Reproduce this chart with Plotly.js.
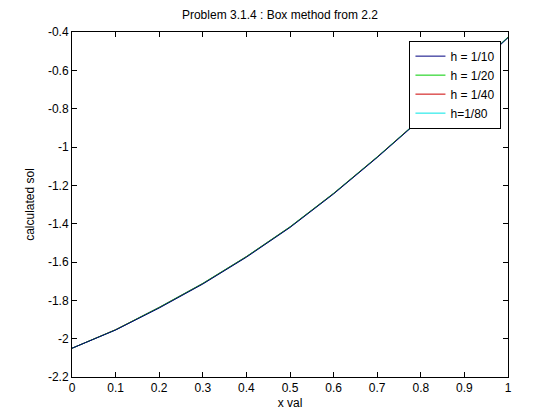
<!DOCTYPE html>
<html>
<head>
<script src="https://cdn.plot.ly/plotly-3.0.1.min.js"></script>
<style>body{margin:0;background:#fff}</style>
</head>
<body>
<div id="plot" style="width:560px;height:420px"></div>
<script>
// values, x = 0 .. 1 step 0.1
var xVals = [0, 0.1, 0.2, 0.3, 0.4, 0.5, 0.6, 0.7, 0.8, 0.9, 1];
var sol10 = [-2.05, -1.955, -1.84, -1.715, -1.575, -1.42, -1.245, -1.055, -0.855, -0.645, -0.43];
var sol20 = [-2.05, -1.954, -1.838, -1.713, -1.573, -1.418, -1.243, -1.053, -0.853, -0.643, -0.428];
var sol40 = [-2.05, -1.953, -1.837, -1.712, -1.572, -1.417, -1.242, -1.052, -0.852, -0.642, -0.427];
var sol80 = [-2.05, -1.953, -1.836, -1.711, -1.571, -1.416, -1.241, -1.051, -0.851, -0.641, -0.426];
var names = ['h = 1/10', 'h = 1/20', 'h = 1/40', 'h=1/80'];
var colors = ['#000080', '#00cc00', '#cc0000', '#00e5e5'];
var xTicks = [0, 0.1, 0.2, 0.3, 0.4, 0.5, 0.6, 0.7, 0.8, 0.9, 1];
var xTickText = ['0', '0.1', '0.2', '0.3', '0.4', '0.5', '0.6', '0.7', '0.8', '0.9', '1'];
var yTicks = [-2.2, -2, -1.8, -1.6, -1.4, -1.2, -1, -0.8, -0.6, -0.4];
var yTickText = ['-2.2', '-2', '-1.8', '-1.6', '-1.4', '-1.2', '-1', '-0.8', '-0.6', '-0.4'];

var series = [sol10, sol20, sol40, sol80];
var traces = [];
// finest first so the coarse one sits on top
for (var i = 3; i >= 0; i--) {
	traces.push({
		x: xVals, y: series[i],
		type: 'scatter', mode: 'lines', name: names[i],
		line: {color: colors[i], width: 1}
	});
}

var axisBase = {
	showgrid: false, zeroline: false, showline: true, mirror: 'ticks',
	linecolor: '#000', linewidth: 1, ticks: 'inside', ticklen: 5, tickcolor: '#000',
	tickfont: {family: 'Liberation Sans, Arial', size: 12, color: '#000'}
};
var layout = {
	width: 560, height: 420,
	margin: {l: 72, r: 52, t: 32, b: 43},
	paper_bgcolor: '#fff', plot_bgcolor: '#fff',
	font: {family: 'Liberation Sans, Arial', size: 12, color: '#000'},
	title: {text: 'Problem 3.1.4 : Box method from 2.2', x: 0.5, xanchor: 'center', y: 0.975, yanchor: 'top',
		font: {size: 12}},
	xaxis: Object.assign({}, axisBase, {range: [0, 1], tickmode: 'array', tickvals: xTicks, ticktext: xTickText,
		tickangle: 0, title: {text: 'x val', standoff: 4, font: {size: 12}}}),
	yaxis: Object.assign({}, axisBase, {range: [-2.2, -0.4], tickmode: 'array', tickvals: yTicks, ticktext: yTickText,
		title: {text: 'calculated sol', standoff: 10, font: {size: 12}}}),
	showlegend: true,
	legend: {x: 0.985, xanchor: 'right', y: 0.975, yanchor: 'top', traceorder: 'reversed',
		bgcolor: '#fff', bordercolor: '#000', borderwidth: 1,
		font: {size: 12}, tracegroupgap: 0}
};
Plotly.newPlot('plot', traces, layout, {displayModeBar: false});
</script>
</body>
</html>
